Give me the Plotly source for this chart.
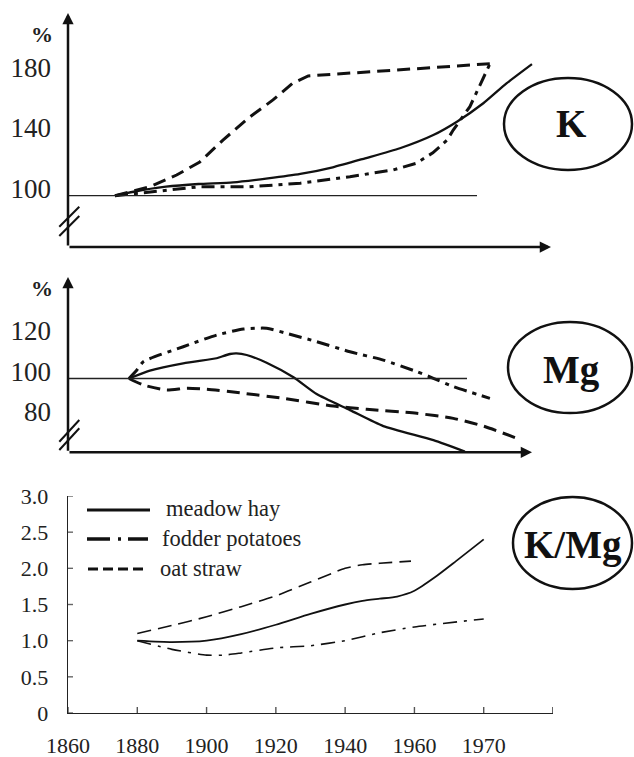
import numpy as np
import plotly.graph_objects as go

W, H = 634, 757
FONT = "Liberation Serif"
INK = "#111111"

# ---------------- data ----------------
# Panel K: K content, % of the 1880 level
k_hay_year = [1880, 1884, 1891, 1898, 1905.5, 1913, 1920, 1927, 1934, 1941.5, 1948.7, 1953.8, 1959.5, 1964.5, 1970]
k_hay_val = [100, 102.6, 105.9, 107.7, 108.8, 111.4, 114.3, 118.7, 124.6, 131.2, 139.9, 148.7, 160.8, 173.9, 186.6]
k_pot_year = [1880, 1887.6, 1898.3, 1909, 1920, 1930.7, 1940, 1945, 1948.6, 1951.7, 1953, 1956.6, 1960.2, 1960.9]
k_pot_val = [100, 102.6, 105.9, 105.9, 108.2, 112.5, 116.9, 121.3, 128.2, 136.7, 143.2, 158.6, 181.6, 186.6]
k_oat_year = [1880, 1887.6, 1893.3, 1898.3, 1903.3, 1909.1, 1914.1, 1918.4, 1921.7, 1934.4, 1948.6, 1960.9]
k_oat_val = [100, 105.9, 113.6, 122.2, 136.6, 151.8, 163, 174.1, 178.8, 181.4, 184.7, 186.8]

# Panel Mg: Mg content, % of the 1880 level
mg_hay_year = [1880, 1884.5, 1891.7, 1898.9, 1899.6, 1901.8, 1903.2, 1905.4, 1909.7, 1915.5, 1920.5, 1927.7, 1934.9, 1945.7, 1952.5]
mg_hay_val = [100, 103.9, 107.5, 110, 110.5, 112.1, 112.4, 111.6, 107.8, 100.6, 92.3, 84.4, 76.5, 69.6, 63.9]
mg_pot_year = [1880, 1881.7, 1883.1, 1891.7, 1899, 1904.7, 1909.7, 1914, 1920.5, 1927.7, 1934.9, 1942.1, 1945.7, 1950, 1957.9]
mg_pot_val = [100, 104.2, 108.3, 115.7, 121.5, 124.4, 124.8, 122.3, 118.2, 113.2, 109.1, 103.4, 100.1, 96, 90.2]
mg_oat_year = [1880, 1883.1, 1888.1, 1892.5, 1896.8, 1904.7, 1913.3, 1924.1, 1931.3, 1942.1, 1950, 1956.5, 1963.7]
mg_oat_val = [100, 96.8, 94.3, 95.2, 94.7, 92.7, 90.2, 86.4, 84.8, 82.8, 80.3, 76.5, 70.5]

# Panel K/Mg: ratio
kmg_hay_year = [1880, 1890, 1900, 1910, 1920, 1930, 1940, 1945, 1950, 1955, 1960, 1963, 1966, 1970]
kmg_hay_val = [1.0, 0.98, 1.0, 1.09, 1.22, 1.37, 1.5, 1.55, 1.58, 1.61, 1.69, 1.88, 2.1, 2.4]
kmg_pot_year = [1880, 1890, 1900, 1905, 1910, 1920, 1930, 1940, 1950, 1960, 1970]
kmg_pot_val = [1.0, 0.88, 0.8, 0.8, 0.83, 0.9, 0.93, 1.0, 1.11, 1.19, 1.3]
kmg_oat_year = [1880, 1890, 1900, 1910, 1920, 1930, 1940, 1945, 1950, 1959]
kmg_oat_val = [1.1, 1.21, 1.33, 1.47, 1.62, 1.81, 2.0, 2.05, 2.07, 2.1]

series_names = ["meadow hay", "fodder potatoes", "oat straw"]
year_ticks = [1860, 1880, 1900, 1920, 1940, 1960, 1970]
year_tick_text = ["1860", "1880", "1900", "1920", "1940", "1960", "1970", ""]
kmg_ticks = [0, 0.5, 1.0, 1.5, 2.0, 2.5, 3.0]
kmg_tick_text = ["0", "0.5", "1.0", "1.5", "2.0", "2.5", "3.0"]
k_ticks = [100, 140, 180]
mg_ticks = [80, 100, 120]
panel_titles = ["K", "Mg", "K/Mg"]

# ---------------- geometry helpers (layout only) ----------------
def px(x):
    return x / W

def py(y):
    return 1 - y / H

# bottom axis: equally spaced tick slots (last slot has no label)
slot_idx = list(range(len(year_ticks)))
def to_slot(years):
    return list(np.interp(years, year_ticks, slot_idx))

top_styles = {
    "meadow hay": dict(color=INK, width=2.3),
    "fodder potatoes": dict(color=INK, width=3, dash="13px,6px,4px,6px"),
    "oat straw": dict(color=INK, width=3, dash="13px,7px"),
}
low_styles = {
    "meadow hay": dict(color=INK, width=1.8),
    "fodder potatoes": dict(color=INK, width=1.6, dash="14px,7px,3px,7px"),
    "oat straw": dict(color=INK, width=1.6, dash="14px,7px"),
}
legend_styles = {
    "meadow hay": dict(color=INK, width=3),
    "fodder potatoes": dict(color=INK, width=3.5, dash="23px,8px,3px,7px"),
    "oat straw": dict(color=INK, width=3, dash="10px,5px"),
}

fig = go.Figure()

def add(xs, ys, name, style, xa, ya, shape="spline"):
    line = dict(style)
    line["shape"] = shape
    if shape == "spline":
        line["smoothing"] = 0.6
    fig.add_trace(go.Scatter(x=xs, y=ys, mode="lines", name=name, line=line,
                             xaxis=xa, yaxis=ya, hoverinfo="skip", showlegend=False))

add(k_hay_year, k_hay_val, "meadow hay", top_styles["meadow hay"], "x", "y")
add(k_pot_year, k_pot_val, "fodder potatoes", top_styles["fodder potatoes"], "x", "y", "linear")
add(k_oat_year, k_oat_val, "oat straw", top_styles["oat straw"], "x", "y", "linear")

add(mg_hay_year, mg_hay_val, "meadow hay", top_styles["meadow hay"], "x2", "y2")
add(mg_pot_year, mg_pot_val, "fodder potatoes", top_styles["fodder potatoes"], "x2", "y2")
add(mg_oat_year, mg_oat_val, "oat straw", top_styles["oat straw"], "x2", "y2")

add(to_slot(kmg_hay_year), kmg_hay_val, "meadow hay", low_styles["meadow hay"], "x3", "y3")
add(to_slot(kmg_pot_year), kmg_pot_val, "fodder potatoes", low_styles["fodder potatoes"], "x3", "y3")
add(to_slot(kmg_oat_year), kmg_oat_val, "oat straw", low_styles["oat straw"], "x3", "y3")

# ---------------- axes ----------------
# K panel: 1880 at px 115, 4.633 px / year; 100 % at py 195.7, 1.52 px / %
k_x0 = 1880 + (68 - 115) / 4.633
k_x1 = 1880 + (551 - 115) / 4.633
k_y0 = 100 - (247 - 195.7) / 1.52
k_y1 = 100 + (195.7 - 13) / 1.52
# Mg panel: 1880 at px 129; 100 % at py 378.5, 2.025 px / %
m_x0 = 1880 + (68 - 129) / 4.633
m_x1 = 1880 + (532 - 129) / 4.633
m_y0 = 100 - (452.3 - 378.5) / 2.025
m_y1 = 100 + (378.5 - 277) / 2.025

hidden_x = dict(visible=False, showgrid=False, zeroline=False, automargin=False)
yax_common = dict(showgrid=False, zeroline=False, showline=False, ticks="", automargin=False,
                  tickfont=dict(family=FONT, size=27, color="#222"),
                  ticklabelshift=-7, ticklabelstandoff=16)

fig.update_layout(
    width=W, height=H, template="none",
    margin=dict(l=0, r=0, t=0, b=0), autosize=False,
    paper_bgcolor="white", plot_bgcolor="rgba(0,0,0,0)",
    showlegend=False,
    font=dict(family=FONT, color="#222"),
    xaxis=dict(domain=[px(68), px(551)], range=[k_x0, k_x1], anchor="y", **hidden_x),
    yaxis=dict(domain=[py(247), py(13)], range=[k_y0, k_y1], anchor="x",
               tickvals=k_ticks, ticktext=[str(v) for v in k_ticks], **yax_common),
    xaxis2=dict(domain=[px(68), px(532)], range=[m_x0, m_x1], anchor="y2", **hidden_x),
    yaxis2=dict(domain=[py(452.3), py(277)], range=[m_y0, m_y1], anchor="x2",
                tickvals=mg_ticks, ticktext=[str(v) for v in mg_ticks], **yax_common),
    xaxis3=dict(domain=[px(68), px(553)], range=[0, 7], anchor="y3",
                tickvals=list(range(8)), ticktext=year_tick_text,
                showgrid=False, zeroline=False, showline=True, linecolor="#222", linewidth=1.4,
                ticks="", automargin=False, ticklabelstandoff=12,
                tickfont=dict(family=FONT, size=22, color="#222")),
    yaxis3=dict(domain=[py(713), py(496)], range=[0, 3], anchor="x3",
                tickvals=kmg_ticks, ticktext=kmg_tick_text,
                showgrid=False, zeroline=False, showline=True, linecolor="#222", linewidth=1.4,
                ticks="", automargin=False, ticklabelstandoff=14,
                tickfont=dict(family=FONT, size=22, color="#222")),
)

shapes = []
# tick marks of the upper panels (to the left of the axis)
for v in [100, 140]:
    shapes.append(dict(type="line", xref="x", yref="y", xsizemode="pixel", xanchor=k_x0,
                       x0=-10, x1=0, y0=v, y1=v, line=dict(color=INK, width=2.5)))
for v in mg_ticks:
    shapes.append(dict(type="line", xref="x2", yref="y2", xsizemode="pixel", xanchor=m_x0,
                       x0=-10, x1=0, y0=v, y1=v, line=dict(color=INK, width=2.5)))
# 100 % reference lines
shapes.append(dict(type="line", xref="x", yref="y", xsizemode="pixel", xanchor=k_x0,
                   x0=-10, x1=409, y0=100, y1=100, line=dict(color="#222", width=1.3)))
shapes.append(dict(type="line", xref="x2", yref="y2", xsizemode="pixel", xanchor=m_x0,
                   x0=-10, x1=399, y0=100, y1=100, line=dict(color="#222", width=1.3)))
# K/Mg ticks crossing the axes
for v in kmg_ticks:
    shapes.append(dict(type="line", xref="x3", yref="y3", xsizemode="pixel", xanchor=0,
                       x0=-6, x1=5, y0=v, y1=v, line=dict(color="#666", width=1.4)))
for s in range(8):
    shapes.append(dict(type="line", xref="x3", yref="y3", ysizemode="pixel", yanchor=0,
                       y0=-6, y1=6, x0=s, x1=s, line=dict(color="#555" if s < 7 else "#222", width=1.4)))
# axis break marks
for (x0, y0, x1, y1) in [(59.3, 226.7, 79.3, 206.7), (59.3, 236, 79.3, 216),
                         (59.3, 441.7, 79.3, 420), (59.3, 450, 79.3, 428.3)]:
    shapes.append(dict(type="line", xref="paper", yref="paper", x0=px(x0), y0=py(y0),
                       x1=px(x1), y1=py(y1), line=dict(color=INK, width=2)))
# ellipses around panel titles
ell_boxes = [(504, 78, 632, 170), (508, 322, 632, 413), (513, 497, 632, 589)]
for (x0, y0, x1, y1) in ell_boxes:
    shapes.append(dict(type="circle", xref="paper", yref="paper", x0=px(x0), y0=py(y1),
                       x1=px(x1), y1=py(y0), line=dict(color=INK, width=2.5)))
# legend samples
leg_rows = [(87, 150, 510), (87, 148, 539), (88, 147, 569)]
for name, (x0, x1, yy) in zip(series_names, leg_rows):
    shapes.append(dict(type="line", xref="paper", yref="paper", x0=px(x0), x1=px(x1),
                       y0=py(yy), y1=py(yy), line=legend_styles[name]))

annotations = []
# axis arrows
def arrow(hx, hy, ax, ay):
    return dict(x=px(hx), y=py(hy), xref="paper", yref="paper", ax=ax, ay=ay,
                axref="pixel", ayref="pixel", text="", showarrow=True, arrowhead=2,
                arrowsize=0.9, arrowwidth=2.5, arrowcolor=INK)
annotations += [arrow(68, 13, 0, 234), arrow(551, 247, -483, 0),
                arrow(68, 277, 0, 175.3), arrow(532, 452.3, -464, 0)]
# % labels
for yy in [35, 288]:
    annotations.append(dict(x=px(42), y=py(yy), xref="paper", yref="paper", text="<b>%</b>",
                            xanchor="center", yanchor="middle",
                            showarrow=False, font=dict(family=FONT, size=22, color="#222")))
# panel titles
title_pos = [(571, 123), (571, 370), (573, 545)]
for t, (xx, yy) in zip(panel_titles, title_pos):
    annotations.append(dict(x=px(xx), y=py(yy), xref="paper", yref="paper", text=f"<b>{t}</b>",
                            xanchor="center", yanchor="middle",
                            showarrow=False, font=dict(family=FONT, size=39, color=INK)))
# legend texts
leg_text_pos = [(164, 508), (160, 538), (158, 568)]
for name, (xx, yy) in zip(series_names, leg_text_pos):
    annotations.append(dict(x=px(xx), y=py(yy), xref="paper", yref="paper", text=name,
                            xanchor="left", yanchor="middle", showarrow=False,
                            font=dict(family=FONT, size=22.5, color="#222")))

fig.update_layout(shapes=shapes, annotations=annotations)
fig.write_html("out.html", config={"displayModeBar": False, "staticPlot": True},
               post_script="document.body.style.margin='0';document.body.style.overflow='hidden';")
